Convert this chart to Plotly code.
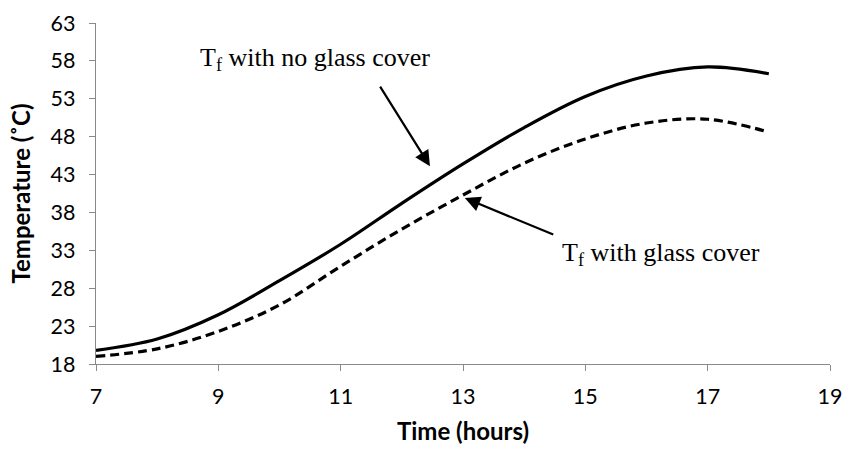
import plotly.graph_objects as go

hours = [7, 8, 9, 10, 11, 12, 13, 14, 15, 16, 17, 18]
tf_no_glass = [19.8, 21.3, 24.5, 29.0, 33.8, 39.2, 44.4, 49.2, 53.3, 56.0, 57.2, 56.3]
tf_glass = [19.0, 20.0, 22.3, 25.8, 30.9, 35.8, 40.3, 44.5, 47.7, 49.8, 50.3, 48.6]

x_ticks = [7, 9, 11, 13, 15, 17, 19]
y_ticks = [18, 23, 28, 33, 38, 43, 48, 53, 58, 63]

axis_color = "#898989"
tick_font = dict(family="Lato", size=21.5, color="black")
title_font = dict(family="Lato", size=24, color="black")
ann_font = dict(family="Liberation Serif", size=26, color="black")

fig = go.Figure()
fig.add_trace(go.Scatter(
    x=hours, y=tf_no_glass, mode="lines",
    line=dict(color="black", width=3.2, shape="spline", smoothing=1.0),
    name="Tf with no glass cover", showlegend=False, hoverinfo="skip"))
fig.add_trace(go.Scatter(
    x=hours, y=tf_glass, mode="lines",
    line=dict(color="black", width=3.2, dash="9px,5px", shape="spline", smoothing=1.0),
    name="Tf with glass cover", showlegend=False, hoverinfo="skip"))

fig.update_layout(
    width=844, height=455,
    margin=dict(l=96, r=14, t=23, b=91),
    plot_bgcolor="white", paper_bgcolor="white",
    xaxis=dict(
        range=[7, 19], tickvals=x_ticks, ticktext=[str(v) for v in x_ticks],
        showgrid=False, zeroline=False, showline=True, linecolor=axis_color, linewidth=1.3,
        ticks="outside", ticklen=6, tickcolor=axis_color, tickwidth=1.3,
        tickfont=tick_font, ticklabelstandoff=7, automargin=False,
        title=dict(text="<b>Time (hours)</b>", font=title_font, standoff=15),
    ),
    yaxis=dict(
        range=[18, 63], tickvals=y_ticks, ticktext=[str(v) for v in y_ticks],
        showgrid=False, zeroline=False, showline=True, linecolor=axis_color, linewidth=1.3,
        ticks="outside", ticklen=6, tickcolor=axis_color, tickwidth=1.3,
        tickfont=tick_font, ticklabelstandoff=9, automargin=False,
        title=dict(text="<b>Temperature (˚C)</b>", font=title_font, standoff=13),
    ),
)

# arrows
fig.add_annotation(x=12.46, y=44.1, ax=11.63, ay=54.8, xref="x", yref="y",
                   axref="x", ayref="y", text="", showarrow=True,
                   arrowhead=2, arrowsize=1.4, arrowwidth=2.2, arrowcolor="black")
fig.add_annotation(x=13.03, y=39.9, ax=14.5, ay=35.0, xref="x", yref="y",
                   axref="x", ayref="y", text="", showarrow=True,
                   arrowhead=2, arrowsize=1.4, arrowwidth=2.2, arrowcolor="black")
# labels
fig.add_annotation(x=8.67, y=58.2, xref="x", yref="y", xanchor="left", yanchor="middle",
                   text="T<sub>f</sub> with no glass cover", showarrow=False, font=ann_font)
fig.add_annotation(x=14.59, y=32.5, xref="x", yref="y", xanchor="left", yanchor="middle",
                   text="T<sub>f</sub> with glass cover", showarrow=False, font=ann_font)

fig.write_html("out.html")
